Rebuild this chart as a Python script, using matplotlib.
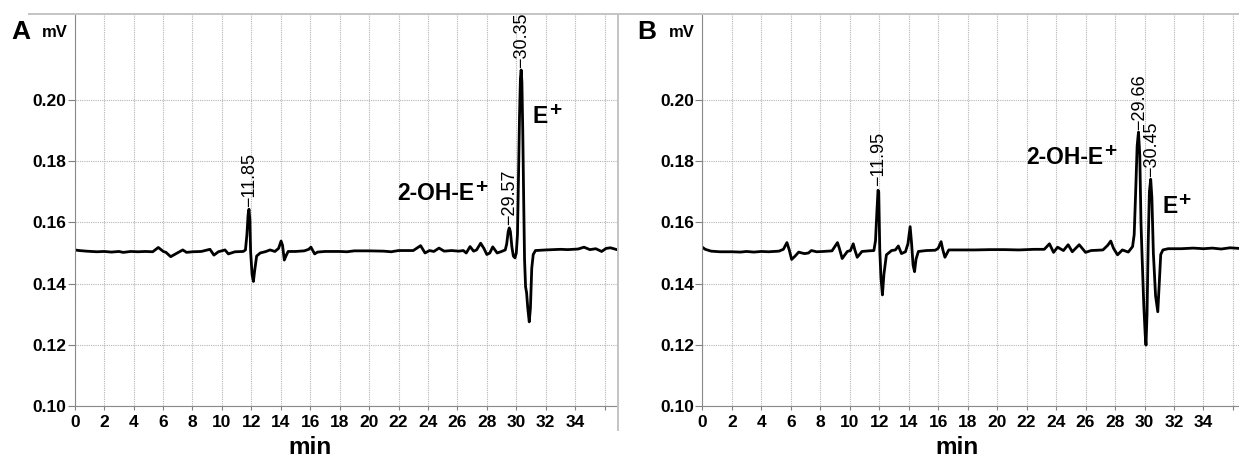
import matplotlib
matplotlib.use("Agg")
import matplotlib.pyplot as plt
from matplotlib.lines import Line2D

plt.rcParams['font.family'] = ['Liberation Sans', 'DejaVu Sans']

# chromatogram A (min, mV)
time_a = [0.0, 0.3, 0.8, 1.5, 2.0, 2.5, 3.0, 3.3, 3.8, 4.3, 4.8, 5.3, 5.68, 6.02, 6.2, 6.52, 6.93, 7.34, 7.6, 8.0,
          8.6, 9.19, 9.46, 9.76, 10.21, 10.44, 10.89, 11.45, 11.6, 11.7, 11.78, 11.84, 11.9, 11.95, 12.05, 12.14,
          12.22, 12.36, 12.6, 13.0, 13.27, 13.6, 13.85, 14.02, 14.12, 14.24, 14.35, 14.5, 15.0, 15.6, 15.9, 16.05,
          16.3, 16.5, 17.0, 18.0, 18.5, 19.0, 20.0, 21.0, 21.5, 22.0, 23.0, 23.5, 23.8, 24.1, 24.4, 24.75, 25.1,
          25.6, 26.1, 26.4, 26.6, 26.86, 27.1, 27.3, 27.58, 27.8, 28.0, 28.2, 28.4, 28.7, 29.0, 29.25, 29.35, 29.45,
          29.52, 29.6, 29.7, 29.8, 29.91, 30.0, 30.08, 30.15, 30.22, 30.28, 30.33, 30.38, 30.44, 30.5, 30.56, 30.63,
          30.7, 30.78, 30.88, 30.96, 31.05, 31.15, 31.3, 32.0, 33.0, 33.5, 34.2, 34.6, 35.0, 35.4, 35.8, 36.1,
          36.4, 36.9]
mv_a = [0.1510, 0.1508, 0.1506, 0.1504, 0.1505, 0.1503, 0.1505, 0.1502, 0.1505, 0.1504, 0.1505, 0.1504, 0.1518,
        0.1505, 0.1502, 0.1488, 0.1499, 0.1510, 0.1502, 0.1504, 0.1505, 0.1512, 0.1493, 0.1504, 0.1510, 0.1497,
        0.1504, 0.1505, 0.1510, 0.1560, 0.1625, 0.1643, 0.1610, 0.1505, 0.1430, 0.1407, 0.1440, 0.1490, 0.1500,
        0.1505, 0.1510, 0.1505, 0.1515, 0.1539, 0.1525, 0.1477, 0.1490, 0.1505, 0.1505, 0.1507, 0.1512, 0.1519,
        0.1497, 0.1503, 0.1505, 0.1505, 0.1504, 0.1507, 0.1507, 0.1506, 0.1504, 0.1508, 0.1508, 0.1524, 0.1500,
        0.1508, 0.1505, 0.1516, 0.1506, 0.1508, 0.1506, 0.1508, 0.1500, 0.1521, 0.1506, 0.1510, 0.1532, 0.1515,
        0.1495, 0.1500, 0.1520, 0.1500, 0.1505, 0.1510, 0.1530, 0.1570, 0.1582, 0.1570, 0.1520, 0.1490, 0.1484,
        0.1500, 0.1560, 0.1750, 0.1950, 0.2070, 0.2098, 0.2060, 0.1900, 0.1680, 0.1480, 0.1390, 0.1370, 0.1320,
        0.1275, 0.1320, 0.1450, 0.1495, 0.1508, 0.1510, 0.1512, 0.1511, 0.1513, 0.1519, 0.1511, 0.1514, 0.1505,
        0.1515, 0.1517, 0.1510]

# chromatogram B
time_b = [0.0, 0.2, 0.6, 1.2, 2.0, 2.6, 3.0, 3.5, 4.0, 4.5, 5.2, 5.5, 5.74, 5.9, 6.06, 6.3, 6.54, 6.75, 6.94, 7.2,
          7.4, 7.76, 8.2, 8.8, 9.17, 9.3, 9.49, 9.84, 10.05, 10.24, 10.35, 10.51, 10.83, 11.3, 11.64, 11.75, 11.85,
          11.92, 11.97, 12.04, 12.12, 12.22, 12.32, 12.49, 12.84, 13.1, 13.3, 13.51, 13.78, 13.95, 14.1, 14.2, 14.3,
          14.4, 14.5, 14.66, 15.2, 15.8, 16.0, 16.2, 16.32, 16.46, 16.72, 17.5, 18.5, 19.5, 20.5, 21.5, 22.5, 23.2,
          23.55, 23.83, 24.1, 24.5, 24.82, 25.1, 25.57, 26.0, 26.37, 26.8, 27.18, 27.5, 27.71, 27.9, 28.17, 28.5,
          28.9, 29.19, 29.3, 29.4, 29.5, 29.59, 29.68, 29.76, 29.82, 29.95, 30.05, 30.1, 30.17, 30.25, 30.33, 30.42,
          30.5, 30.6, 30.75, 30.9, 31.0, 31.1, 31.25, 31.6, 32.5, 33.3, 34.0, 34.6, 35.2, 35.8, 36.4]
mv_b = [0.1519, 0.1512, 0.1506, 0.1504, 0.1504, 0.1503, 0.1505, 0.1503, 0.1505, 0.1504, 0.1506, 0.1512, 0.1534,
        0.1510, 0.1479, 0.1490, 0.1503, 0.1500, 0.1498, 0.1500, 0.1508, 0.1504, 0.1505, 0.1507, 0.1534, 0.1515,
        0.1482, 0.1505, 0.1508, 0.1530, 0.1510, 0.1486, 0.1505, 0.1507, 0.1508, 0.1540, 0.1640, 0.1705, 0.1700,
        0.1510, 0.1420, 0.1363, 0.1430, 0.1494, 0.1508, 0.1510, 0.1523, 0.1498, 0.1504, 0.1530, 0.1586, 0.1530,
        0.1460, 0.1439, 0.1480, 0.1505, 0.1508, 0.1509, 0.1515, 0.1537, 0.1510, 0.1486, 0.1510, 0.1510, 0.1510,
        0.1511, 0.1511, 0.1510, 0.1512, 0.1512, 0.1530, 0.1502, 0.1519, 0.1508, 0.1527, 0.1504, 0.1527, 0.1502,
        0.1508, 0.1509, 0.1510, 0.1525, 0.1539, 0.1515, 0.1494, 0.1510, 0.1503, 0.1521, 0.1560, 0.1700, 0.1850,
        0.1895, 0.1820, 0.1600, 0.1510, 0.1330, 0.1230, 0.1199, 0.1300, 0.1530, 0.1700, 0.1741, 0.1680, 0.1500,
        0.1360, 0.1308, 0.1400, 0.1495, 0.1510, 0.1514, 0.1514, 0.1516, 0.1514, 0.1516, 0.1513, 0.1517, 0.1515]

# peak labels: (retention time, apex height)
peaks_a = [(11.85, 0.1643), (29.57, 0.1582), (30.35, 0.2098)]
peaks_b = [(11.95, 0.1712), (29.66, 0.1895), (30.45, 0.1741)]

# compound names: (text, x, baseline y)
names_a = [('2-OH-E', 21.9, 0.16748), ('E', 31.13, 0.19239)]
names_b = [('2-OH-E', 21.96, 0.1791), ('E', 31.19, 0.1630)]

xticks = list(range(0, 37, 2))
xticklabels = [str(t) for t in range(0, 35, 2)] + ['']
yticks = [0.10, 0.12, 0.14, 0.16, 0.18, 0.20]

W, H = 1239, 459
fig = plt.figure(figsize=(W / 100, H / 100), dpi=100)

ax_a = fig.add_axes([74.7 / W, 1 - 406 / H, (618.3 - 74.7) / W, 392 / H])
ax_b = fig.add_axes([702.3 / W, 1 - 406 / H, (W - 702.3) / W, 392 / H])

grid_kw = dict(color='#b5b5b5', linestyle=(0, (1, 1)), linewidth=0.8)

for ax, t, v, peaks, names, xmax in [(ax_a, time_a, mv_a, peaks_a, names_a, 36.93),
                                     (ax_b, time_b, mv_b, peaks_b, names_b, 36.41)]:
    ax.plot(t, v, color='black', linewidth=2.0, solid_joinstyle='round')
    ax.set_xlim(0, xmax)
    ax.set_ylim(0.10, 0.2281)
    ax.set_xticks(xticks)
    ax.set_xticklabels(xticklabels)
    ax.set_yticks(yticks)
    ax.set_yticklabels(['%.2f' % y for y in yticks])
    ax.grid(True, **grid_kw)
    ax.set_axisbelow(True)
    for lab in ax.get_xticklabels() + ax.get_yticklabels():
        lab.set_fontweight('bold')
        lab.set_fontsize(12.5)
    ax.tick_params(axis='x', length=3, pad=3.5, color='#808080')
    ax.tick_params(axis='y', length=5, pad=1, color='#808080')
    ax.spines['top'].set_visible(False)
    ax.spines['right'].set_visible(False)
    ax.spines['left'].set_color('#8a8a8a')
    ax.spines['bottom'].set_color('#8a8a8a')
    for rt, h in peaks:
        ax.text(rt, h + 0.0008, '\u2212' + '%.2f' % rt, rotation=90, ha='center', va='bottom',
                fontsize=13)
    for name, nx, ny in names:
        tx = ax.text(nx, ny, name, fontsize=16.5, fontweight='bold', ha='left', va='baseline')
        ax.annotate('+', xy=(1, 0), xycoords=tx, xytext=(0.8, 8.5), textcoords='offset points',
                    fontsize=15, fontweight='bold', ha='left', va='baseline')
    ax.set_xlabel('min', fontsize=17.5, fontweight='bold', va='baseline')

ax_a.xaxis.set_label_coords(0.4329, -0.122)
ax_b.xaxis.set_label_coords(0.4746, -0.122)

# panel letters and units
fig.text(11.7 / W, 1 - 39.3 / H, 'A', fontsize=19, fontweight='bold', va='baseline')
fig.text(41.7 / W, 1 - 36.7 / H, 'mV', fontsize=12, fontweight='bold', va='baseline')
fig.text(637.3 / W, 1 - 39.3 / H, 'B', fontsize=19, fontweight='bold', va='baseline')
fig.text(669.3 / W, 1 - 36.7 / H, 'mV', fontsize=12, fontweight='bold', va='baseline')

# panel frame lines
fig.add_artist(Line2D([29 / W, 1], [1 - 14 / H, 1 - 14 / H], color='#c4c4c4', linewidth=1.4))
fig.add_artist(Line2D([618.3 / W, 618.3 / W], [1 - 14 / H, 1 - 430 / H], color='#c4c4c4', linewidth=1.4))

fig.savefig('out.png', dpi=100)
